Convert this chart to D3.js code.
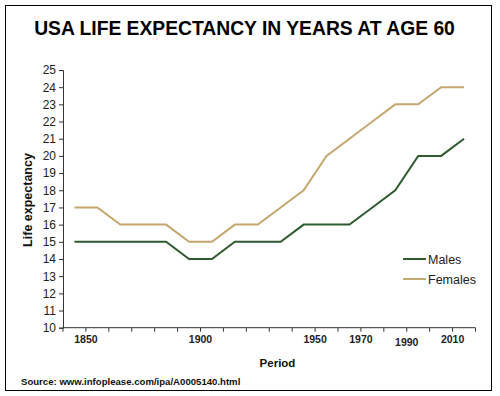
<!DOCTYPE html>
<html><head><meta charset="utf-8">
<script src="https://cdn.jsdelivr.net/npm/d3@7/dist/d3.min.js"></script>
<style>body{margin:0;background:#fff}</style>
</head><body>
<svg id="c" width="500" height="396"></svg>
<script>
const categories = ["1840","1850","1860","1870","1880","1890","1900","1910","1920","1930","1940","1950","1960","1970","1980","1990","2000","2010"];
const males   = [15,15,15,15,15,14,14,15,15,15,16,16,16,17,18,20,20,21];
const females = [17,17,16,16,16,15,15,16,16,17,18,20,21,22,23,23,24,24];
const xTickLabels = ["1850","1900","1950","1970","1990","2010"];
const yTicks = d3.range(10, 26);
const seriesNames = ["Males","Females"];
const colors = ["#2f5b2f","#c4a771"];

const svg = d3.select("#c");
svg.append("rect").attr("x",5.5).attr("y",5.5).attr("width",486).attr("height",385)
  .attr("fill","#fff").attr("stroke","#000").attr("stroke-width",1);

svg.append("text").attr("x",244.5).attr("y",35).attr("text-anchor","middle")
  .attr("font-family","Liberation Sans, Arial, sans-serif").attr("font-weight","bold")
  .attr("font-size",19.3).text("USA LIFE EXPECTANCY IN YEARS AT AGE 60");

const x = d3.scaleBand().domain(categories).range([63, 475.5]).padding(0);
const y = d3.scaleLinear().domain([10, 25]).range([327.7, 70]);

const yAxis = svg.append("g").attr("transform","translate(63,0)")
  .call(d3.axisLeft(y).tickValues(yTicks).tickSize(4).tickPadding(3).tickFormat(d3.format("d")));
yAxis.select(".domain").attr("stroke","#333");
yAxis.selectAll(".tick line").attr("stroke","#333");
yAxis.selectAll("text").attr("font-family","Liberation Sans, Arial, sans-serif").attr("font-size",12).attr("fill","#222");

const xg = svg.append("g");
xg.append("line").attr("x1",63).attr("x2",475.5).attr("y1",327.7).attr("y2",327.7).attr("stroke","#333");
const boundaries = categories.map(c => x(c)).concat([x(categories[categories.length-1]) + x.bandwidth()]);
xg.selectAll("line.t").data(boundaries).join("line").attr("class","t")
  .attr("x1",d=>d).attr("x2",d=>d).attr("y1",327.7).attr("y2",331.7).attr("stroke","#333");
xg.selectAll("text").data(xTickLabels).join("text")
  .attr("x", d => x(d)).attr("y", d => d === "1990" ? 346 : 343)
  .attr("text-anchor","middle")
  .attr("font-family","Liberation Sans Narrow, Arial Narrow, sans-serif").attr("font-weight","bold")
  .attr("font-size",10.5).attr("fill","#222").text(d=>d);

const line = d3.line().x((d,i)=>x(categories[i]) + x.bandwidth()/2).y(d=>y(d));
[males, females].forEach((s,k)=>{
  svg.append("path").datum(s).attr("d",line).attr("fill","none")
    .attr("stroke",colors[k]).attr("stroke-width",2);
});

seriesNames.forEach((n,k)=>{
  const ly = 259 + k*20;
  svg.append("line").attr("x1",403).attr("x2",426).attr("y1",ly).attr("y2",ly)
    .attr("stroke",colors[k]).attr("stroke-width",2);
  svg.append("text").attr("x",428).attr("y",ly+4.5)
    .attr("font-family","Liberation Sans, Arial, sans-serif").attr("font-size",12.5).attr("fill","#222").text(n);
});

svg.append("text").attr("transform","translate(32,200) rotate(-90)").attr("text-anchor","middle")
  .attr("font-family","Liberation Sans, Arial, sans-serif").attr("font-weight","bold")
  .attr("font-size",12.5).attr("fill","#111").text("Life expectancy");

svg.append("text").attr("x",277.5).attr("y",367).attr("text-anchor","middle")
  .attr("font-family","Liberation Sans, Arial, sans-serif").attr("font-size",11.5).attr("fill","#111")
  .attr("font-weight","bold").text("Period");

svg.append("text").attr("x",21).attr("y",385)
  .attr("font-family","Liberation Sans, Arial, sans-serif").attr("font-weight","bold")
  .attr("font-size",9.6).attr("fill","#111").text("Source: www.infoplease.com/ipa/A0005140.html");
</script>
</body></html>
